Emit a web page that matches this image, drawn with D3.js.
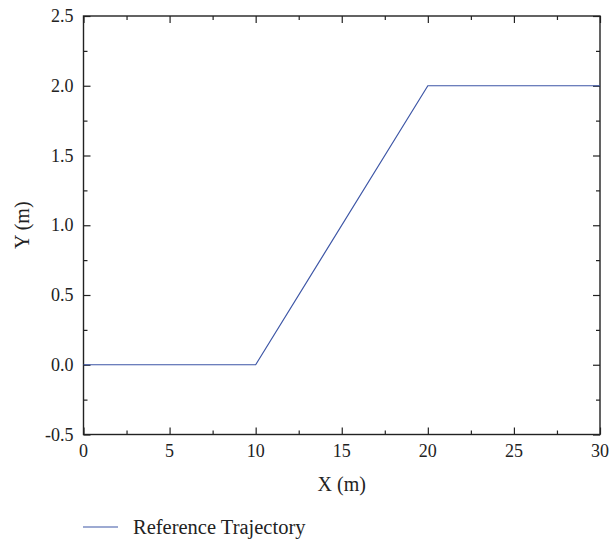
<!DOCTYPE html>
<html><head><meta charset="utf-8">
<script src="https://cdn.jsdelivr.net/npm/d3@7"></script>
<style>body{margin:0;background:#fff}</style>
</head><body>
<svg id="c" width="612" height="546"></svg>
<script>
const xValues = [0, 10, 20, 30];
const yValues = [0, 0, 2, 2];
const xTicks = [0, 5, 10, 15, 20, 25, 30];
const yTicks = [-0.5, 0.0, 0.5, 1.0, 1.5, 2.0, 2.5];
const seriesName = "Reference Trajectory";

const svg = d3.select("#c");
const L = 83.5, R = 600, T = 16, B = 434.5;
const x = d3.scaleLinear().domain([0, 30]).range([L, R]);
const y = d3.scaleLinear().domain([-0.5, 2.5]).range([B, T]);
const font = "Liberation Serif, Times New Roman, serif";
const ax = "#222";
const lineColor = "#3d56a6";

const xMinor = d3.range(0, 30.01, 2.5).filter(v => !xTicks.includes(v));
const yMinor = d3.range(-0.5, 2.51, 0.25).map(v => +v.toFixed(2)).filter(v => !yTicks.includes(v));

function ticks(g, axis) {
  g.call(axis);
  g.select(".domain").remove();
  g.selectAll("line").attr("stroke", ax).attr("stroke-width", 1.2);
}
svg.append("g").attr("transform", `translate(0,${B})`)
  .call(g => ticks(g, d3.axisTop(x).tickValues(xTicks).tickSize(7).tickFormat("")));
svg.append("g").attr("transform", `translate(0,${B})`)
  .call(g => ticks(g, d3.axisTop(x).tickValues(xMinor).tickSize(4).tickFormat("")));
svg.append("g").attr("transform", `translate(0,${T})`)
  .call(g => ticks(g, d3.axisBottom(x).tickValues(xTicks).tickSize(7).tickFormat("")));
svg.append("g").attr("transform", `translate(0,${T})`)
  .call(g => ticks(g, d3.axisBottom(x).tickValues(xMinor).tickSize(4).tickFormat("")));
svg.append("g").attr("transform", `translate(${L},0)`)
  .call(g => ticks(g, d3.axisRight(y).tickValues(yTicks).tickSize(7).tickFormat("")));
svg.append("g").attr("transform", `translate(${L},0)`)
  .call(g => ticks(g, d3.axisRight(y).tickValues(yMinor).tickSize(4).tickFormat("")));
svg.append("g").attr("transform", `translate(${R},0)`)
  .call(g => ticks(g, d3.axisLeft(y).tickValues(yTicks).tickSize(7).tickFormat("")));
svg.append("g").attr("transform", `translate(${R},0)`)
  .call(g => ticks(g, d3.axisLeft(y).tickValues(yMinor).tickSize(4).tickFormat("")));

svg.append("rect").attr("x", L).attr("y", T).attr("width", R - L).attr("height", B - T)
  .attr("fill", "none").attr("stroke", ax).attr("stroke-width", 1.4);

svg.append("g").selectAll("text").data(xTicks).join("text")
  .attr("x", d => x(d)).attr("y", 457).attr("text-anchor", "middle")
  .attr("font-family", font).attr("font-size", 18).attr("fill", "#222").text(d => d);
svg.append("g").selectAll("text").data(yTicks).join("text")
  .attr("x", L - 10).attr("y", d => y(d) + 6).attr("text-anchor", "end")
  .attr("font-family", font).attr("font-size", 18).attr("fill", "#222").text(d => d.toFixed(1));

svg.append("text").attr("x", (L + R) / 2).attr("y", 491).attr("text-anchor", "middle")
  .attr("font-family", font).attr("font-size", 20).attr("fill", "#222").text("X (m)");
svg.append("text").attr("transform", `translate(29,${(T + B) / 2}) rotate(-90)`).attr("text-anchor", "middle")
  .attr("font-family", font).attr("font-size", 20).attr("fill", "#222").text("Y (m)");

const data = xValues.map((v, i) => [v, yValues[i]]);
svg.append("path").datum(data).attr("fill", "none").attr("stroke", lineColor).attr("stroke-width", 1.2)
  .attr("d", d3.line().x(d => x(d[0])).y(d => y(d[1])));

svg.append("line").attr("x1", 83).attr("x2", 118).attr("y1", 527).attr("y2", 527)
  .attr("stroke", lineColor).attr("stroke-width", 1.2);
svg.append("text").attr("x", 133).attr("y", 534).attr("font-family", font).attr("font-size", 20.5)
  .attr("fill", "#222").text(seriesName);
</script>
</body></html>
